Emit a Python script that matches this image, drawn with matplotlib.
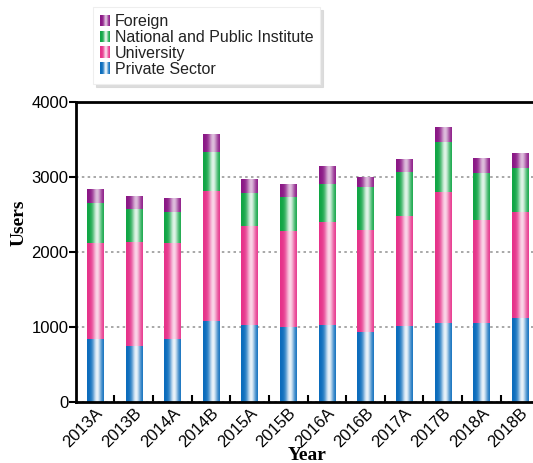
import numpy as np
import matplotlib
matplotlib.use("Agg")
import matplotlib.pyplot as plt
from matplotlib.patches import Rectangle
from matplotlib.legend_handler import HandlerBase
from matplotlib.ticker import MultipleLocator, FixedLocator

years = ["2013A", "2013B", "2014A", "2014B", "2015A", "2015B",
         "2016A", "2016B", "2017A", "2017B", "2018A", "2018B"]
private = [841, 743, 841, 1081, 1023, 997, 1023, 930, 1010, 1050, 1050, 1117]
university = [1277, 1393, 1277, 1731, 1326, 1281, 1379, 1366, 1473, 1753, 1379, 1419]
national = [534, 435, 418, 525, 436, 454, 503, 569, 587, 667, 623, 587]
foreign = [186, 161, 182, 240, 178, 173, 227, 125, 169, 196, 187, 187]

series = [
    ("Private Sector", private, "#0a6cbc", 0.92),
    ("University", university, "#e6328a", 0.80),
    ("National and Public Institute", national, "#0fa544", 0.88),
    ("Foreign", foreign, "#8a1785", 0.72),
]

plt.rcParams['font.family'] = ['Liberation Sans', 'DejaVu Sans']

fig = plt.figure(figsize=(5.33, 4.63), dpi=100)
ax = fig.add_axes([0.142, 0.1324, 0.870, 0.6473])


def gradient_colors(color, peak, n=64):
    base = np.array(matplotlib.colors.to_rgb(color))
    t = np.linspace(0, 1, n)
    w = peak * np.exp(-((t - 0.6) / 0.25) ** 2)
    cols = base[None, :] * (1 - w[:, None]) + np.ones(3)[None, :] * w[:, None]
    return cols


x = np.arange(len(years))
bottom = np.zeros(len(years))
bw = 0.42
for name, vals, color, peak in series:
    vals = np.array(vals, dtype=float)
    bars = ax.bar(x, vals, bw, bottom=bottom, facecolor='none', edgecolor='none', zorder=2)
    grad = gradient_colors(color, peak)
    for r in bars:
        x0, y0, w, h = r.get_x(), r.get_y(), r.get_width(), r.get_height()
        ax.imshow(grad[np.newaxis, :, :], extent=[x0, x0 + w, y0, y0 + h],
                  aspect='auto', interpolation='bilinear', zorder=2)
    bottom += vals

ax.set_xlim(-0.5, len(years) - 0.5)
ax.set_ylim(0, 4000)
ax.set_aspect('auto')

ax.yaxis.set_major_locator(MultipleLocator(1000))
ax.grid(axis='y', linestyle=(0, (1.5, 2)), color='#999999', linewidth=1.2, zorder=0)
ax.set_axisbelow(True)

ax.set_xticks(x)
ax.set_xticklabels(years, rotation=45, ha='right', rotation_mode='anchor', fontsize=12)
ax.xaxis.set_minor_locator(FixedLocator(np.arange(0.5, len(years) - 0.5, 1)))
ax.tick_params(axis='x', which='major', length=0, pad=2.5)
ax.tick_params(axis='x', which='minor', direction='in', length=5, width=1.5)
ax.tick_params(axis='y', direction='out', length=5, width=1.5, labelsize=12, pad=0)

for s in ['left', 'top', 'bottom', 'right']:
    ax.spines[s].set_linewidth(2)

ax.set_ylabel("Users", family=['Liberation Serif'], fontweight='bold', fontsize=14)
ax.yaxis.set_label_coords(-0.122, 0.596)
ax.yaxis.label.set_va('center')
ax.set_xlabel("Year", family=['Liberation Serif'], fontweight='bold', fontsize=14)
ax.xaxis.set_label_coords(0.499, -0.15)
ax.xaxis.label.set_va('top')


class GradHandler(HandlerBase):
    def __init__(self, color, peak):
        super().__init__()
        self.color = color
        self.peak = peak

    def create_artists(self, legend, orig_handle, xdescent, ydescent, width, height, fontsize, trans):
        n = 10
        cols = gradient_colors(self.color, self.peak, n)
        arts = []
        for i in range(n):
            rr = Rectangle((-xdescent + i * width / n, -ydescent), width / n * 1.05, height,
                           facecolor=cols[i], edgecolor='none', transform=trans)
            arts.append(rr)
        return arts


handles = []
hmap = {}
for name, vals, color, peak in reversed(series):
    h = Rectangle((0, 0), 1, 1, facecolor=color)
    handles.append(h)
    hmap[h] = GradHandler(color, peak)

leg = fig.legend(handles, [s[0] for s in reversed(series)], handler_map=hmap,
                 loc='upper left', bbox_to_anchor=(93 / 533, 1 - 7 / 463),
                 fontsize=11.5, handlelength=0.6, handleheight=0.75, handletextpad=0.3,
                 labelspacing=0.05, borderpad=0.45, frameon=True, fancybox=False,
                 shadow={'color': '#d5d5d5', 'alpha': 0.8}, borderaxespad=0)
leg.get_frame().set_edgecolor('#eeeeee')
leg.get_frame().set_linewidth(0.8)
for t in leg.get_texts():
    t.set_color('#222222')

fig.savefig("out.png", dpi=100)
